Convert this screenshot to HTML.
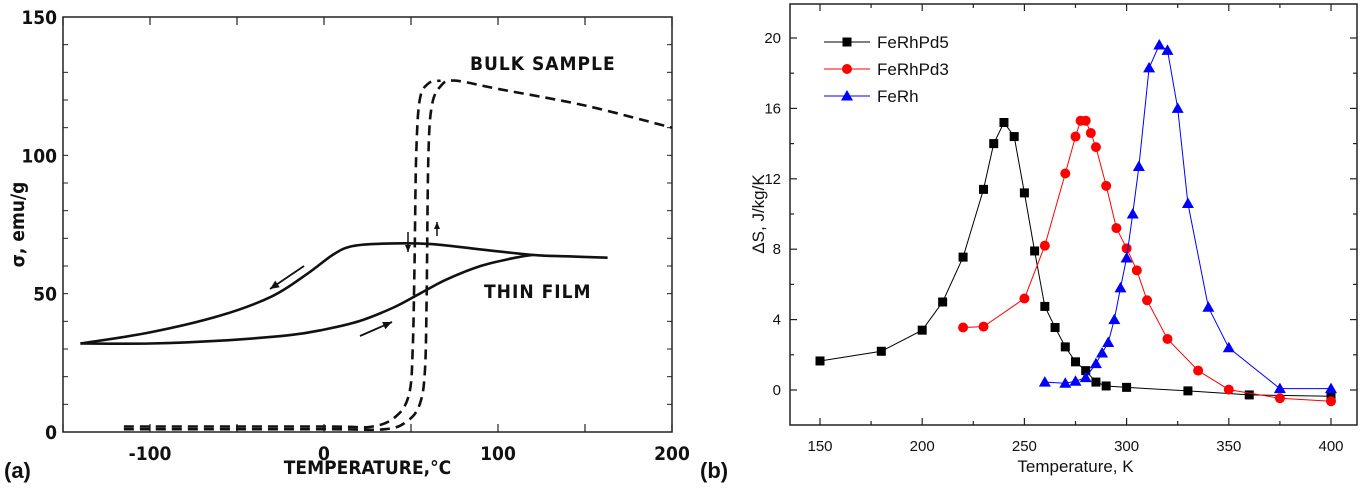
<!DOCTYPE html>
<html><head><meta charset="utf-8"><style>
html,body{margin:0;padding:0;background:#fff;}
svg{display:block;}
.ta{font-family:"DejaVu Sans Condensed","Liberation Sans Narrow","Liberation Sans",sans-serif;font-weight:bold;fill:#111;}
.tb{font-family:"Liberation Sans",Arial,sans-serif;fill:#111;}
</style></head><body>
<svg id="s" width="1365" height="490" viewBox="0 0 1365 490" xmlns="http://www.w3.org/2000/svg">
<g id="pa"></g>
<g id="pb"></g>
<text x="4" y="478" class="tb" font-size="22" font-weight="bold">(a)</text>
<text x="700" y="478" class="tb" font-size="22" font-weight="bold">(b)</text>
</svg>
<script>
// ---------- Panel (a) data ----------
const aXTicks = [-100, 0, 100, 200];
const aYTicks = [0, 50, 100, 150];
const bulkWarmT = [-115, 0, 35, 48, 55, 58, 59, 60, 62, 67, 75, 100, 150, 200];
const bulkWarmS = [1, 1, 1, 4, 10, 22, 50, 100, 118, 125, 127, 124, 118, 110];
const bulkCoolT = [-115, 0, 28, 42, 49, 51, 52, 53, 55, 60, 67];
const bulkCoolS = [2, 2, 2, 6, 14, 30, 60, 100, 120, 126, 127];
const filmCoolT = [163, 140, 120, 90, 60, 30, 15, 5, -10, -30, -60, -100, -140];
const filmCoolS = [63, 63.5, 64, 66, 68, 68, 67, 64, 57, 49, 42, 36, 32];
const filmHeatT = [-140, -100, -60, -20, 0, 20, 40, 55, 70, 90, 110, 120];
const filmHeatS = [32, 32, 33, 35, 37, 40, 45, 50, 55, 60, 63, 64];

// ---------- Panel (b) data ----------
const bXTicks = [150, 200, 250, 300, 350, 400];
const bYTicks = [0, 4, 8, 12, 16, 20];
const pd5T = [150,180,200,210,220,230,235,240,245,250,255,260,265,270,275,280,285,290,300,330,360,400];
const pd5S = [1.65,2.2,3.4,5.0,7.55,11.4,14.0,15.2,14.4,11.2,7.9,4.75,3.55,2.45,1.6,1.1,0.45,0.23,0.15,-0.05,-0.28,-0.35];
const pd3T = [220,230,250,260,270,275,277.5,280,282.5,285,290,295,300,305,310,320,335,350,375,400];
const pd3S = [3.55,3.6,5.2,8.2,12.3,14.4,15.3,15.3,14.6,13.8,11.6,9.2,8.05,6.8,5.1,2.9,1.1,0.02,-0.47,-0.64];
const ferhT = [260,270,275,280,285,288,291,294,297,300,303,306,311,316,320,325,330,340,350,375,400];
const ferhS = [0.45,0.38,0.5,0.7,1.5,2.1,2.7,4.0,5.8,7.5,10.0,12.7,18.3,19.6,19.3,16.0,10.6,4.7,2.4,0.08,0.08];
const seriesNames = ["FeRhPd5","FeRhPd3","FeRh"];

const NS = "http://www.w3.org/2000/svg";
function mk(parent, tag, attrs){const e=document.createElementNS(NS,tag);for(const k in attrs)e.setAttribute(k,attrs[k]);parent.appendChild(e);return e;}

// ----- Panel a -----
const pa = document.getElementById('pa');
const aL=63,aR=672,aT=17,aB=432;
const ax = t => aL + (t + 150) / 350 * (aR - aL);
const ay = s => aB - s / 150 * (aB - aT);
let fr = mk(pa,'rect',{x:aL,y:aT,width:aR-aL,height:aB-aT,fill:'none',stroke:'#222','stroke-width':1.5});


for (let v=-150; v<=200; v+=50){
  const x=ax(v);
  const t1=mk(pa,'line',{x1:x,y1:aB,x2:x,y2:aB-8,stroke:'#222','stroke-width':1.2});
  
  
  const t2=mk(pa,'line',{x1:x,y1:aT,x2:x,y2:aT+8,stroke:'#222','stroke-width':1.2});
  
  
}
for (let v=0; v<=150; v+=10){
  const y=ay(v);
  const t1=mk(pa,'line',{x1:aL,y1:y,x2:aL+5,y2:y,stroke:'#222','stroke-width':1});
  
  
  const t2=mk(pa,'line',{x1:aR,y1:y,x2:aR-5,y2:y,stroke:'#222','stroke-width':1});
  
  
}
aXTicks.forEach(v=>{
  const t=mk(pa,'text',{x:ax(v),y:aB+28,'text-anchor':'middle','font-size':19,class:'ta'});
  t.textContent=v;
  
  
});
aYTicks.forEach(v=>{
  const t=mk(pa,'text',{x:aL-6,y:ay(v)+7,'text-anchor':'end','font-size':19,class:'ta'});
  t.textContent=v;
  
  
});
let xt=mk(pa,'text',{x:ax(25),y:474,'text-anchor':'middle','font-size':19,class:'ta'});
xt.textContent='TEMPERATURE,°C';


let yt=mk(pa,'text',{x:0,y:0,'text-anchor':'middle','font-size':19,class:'ta',transform:'translate(24,'+ay(75)+') rotate(-90)'});
yt.textContent='σ, emu/g';


function pathOf(T,S,fx,fy){return T.map((t,i)=>(i?'L':'M')+fx(t).toFixed(1)+' '+fy(S[i]).toFixed(1)).join(' ');}
function smoothOf(T,S,fx,fy){
  const P=T.map((t,i)=>[fx(t),fy(S[i])]);
  let d='M'+P[0][0].toFixed(1)+' '+P[0][1].toFixed(1);
  for(let i=0;i<P.length-1;i++){
    const p0=P[Math.max(0,i-1)],p1=P[i],p2=P[i+1],p3=P[Math.min(P.length-1,i+2)];
    const c1=[p1[0]+(p2[0]-p0[0])/6,p1[1]+(p2[1]-p0[1])/6];
    const c2=[p2[0]-(p3[0]-p1[0])/6,p2[1]-(p3[1]-p1[1])/6];
    d+=' C'+c1.map(v=>v.toFixed(1)).join(' ')+' '+c2.map(v=>v.toFixed(1)).join(' ')+' '+p2.map(v=>v.toFixed(1)).join(' ');
  }
  return d;
}
let c1=mk(pa,'path',{d:smoothOf(bulkWarmT,bulkWarmS,ax,ay),fill:'none',stroke:'#111','stroke-width':2.6,'stroke-dasharray':'10 6','stroke-linejoin':'round'});


let c2=mk(pa,'path',{d:smoothOf(bulkCoolT,bulkCoolS,ax,ay),fill:'none',stroke:'#111','stroke-width':2.6,'stroke-dasharray':'10 6','stroke-linejoin':'round'});


let c3=mk(pa,'path',{d:smoothOf(filmCoolT,filmCoolS,ax,ay),fill:'none',stroke:'#111','stroke-width':2.6,'stroke-linejoin':'round'});


let c4=mk(pa,'path',{d:smoothOf(filmHeatT,filmHeatS,ax,ay),fill:'none',stroke:'#111','stroke-width':2.6,'stroke-linejoin':'round'});


let l1=mk(pa,'text',{x:470,y:70,'font-size':19,class:'ta','letter-spacing':'1'});
l1.textContent='BULK  SAMPLE';


let l2=mk(pa,'text',{x:484,y:298,'font-size':19,class:'ta','letter-spacing':'1'});
l2.textContent='THIN  FILM';


[[304,266,270,289],[360,336,392,322]].forEach((a,i)=>{
  const ln=mk(pa,'line',{x1:a[0],y1:a[1],x2:a[2],y2:a[3],stroke:'#111','stroke-width':1.8});
  
  
  const dx=a[2]-a[0],dy=a[3]-a[1],L=Math.hypot(dx,dy),ux=dx/L,uy=dy/L;
  const p=[a[2],a[3],a[2]-ux*9-uy*4,a[3]-uy*9+ux*4,a[2]-ux*9+uy*4,a[3]-uy*9-ux*4];
  const h=mk(pa,'polygon',{points:p.join(' '),fill:'#111'});
  
  
});
[[408,232,408,252,1],[437,236,437,222,-1]].forEach(a=>{
  const ln=mk(pa,'line',{x1:a[0],y1:a[1],x2:a[2],y2:a[3],stroke:'#111','stroke-width':1.5});
  
  
  const h=mk(pa,'polygon',{points:[a[2],a[3],a[2]-3,a[3]-7*a[4],a[2]+3,a[3]-7*a[4]].join(' '),fill:'#111'});
  
  
});

// ----- Panel b -----
const pb=document.getElementById('pb');
const bL=790,bR=1357,bT=4,bB=425;
const bx = t => 820 + (t-150)/250*(1331-820);
const by = s => 390 - s/20*(390-38);
let fb=mk(pb,'rect',{x:bL,y:bT,width:bR-bL,height:bB-bT,fill:'none',stroke:'#222','stroke-width':1.5});


for(let v=150;v<=400;v+=25){
  const x=bx(v),len=(v%50===0)?7:4;
  const t1=mk(pb,'line',{x1:x,y1:bB,x2:x,y2:bB-len,stroke:'#222','stroke-width':1.2});
  
  
  const t2=mk(pb,'line',{x1:x,y1:bT,x2:x,y2:bT+len,stroke:'#222','stroke-width':1.2});
  
  
}
for(let v=0;v<=20;v+=2){
  const y=by(v),len=(v%4===0)?7:4;
  const t1=mk(pb,'line',{x1:bL,y1:y,x2:bL+len,y2:y,stroke:'#222','stroke-width':1.2});
  
  
  const t2=mk(pb,'line',{x1:bR,y1:y,x2:bR-len,y2:y,stroke:'#222','stroke-width':1.2});
  
  
}
bXTicks.forEach(v=>{
  const t=mk(pb,'text',{x:bx(v),y:bB+26,'text-anchor':'middle','font-size':15,class:'tb'});
  t.textContent=v;
  
  
});
bYTicks.forEach(v=>{
  const t=mk(pb,'text',{x:bL-9,y:by(v)+5,'text-anchor':'end','font-size':15,class:'tb'});
  t.textContent=v;
  
  
});
let bxt=mk(pb,'text',{x:bx(275),y:472,'text-anchor':'middle','font-size':17,class:'tb'});
bxt.textContent='Temperature, K';


let byt=mk(pb,'text',{x:0,y:0,'text-anchor':'middle','font-size':17,class:'tb',transform:'translate(764,'+by(10)+') rotate(-90)'});
byt.textContent='ΔS, J/kg/K';



function marker(g,shape,x,y,color){
  let m;
  if(shape==='sq') m=mk(g,'rect',{x:x-4.5,y:y-4.5,width:9,height:9,fill:color});
  else if(shape==='ci') m=mk(g,'circle',{cx:x,cy:y,r:5,fill:color});
  else m=mk(g,'polygon',{points:[x,y-6,x-6,y+4.5,x+6,y+4.5].join(' '),fill:color});
  return m;
}
const series=[[pd5T,pd5S,'#000','sq'],[pd3T,pd3S,'#ff0000','ci'],[ferhT,ferhS,'#0000ff','tr']];
series.forEach((s,k)=>{
  const g=mk(pb,'g',{});
  
  
  const ln=mk(g,'path',{d:pathOf(s[0],s[1],bx,by),fill:'none',stroke:s[2],'stroke-width':1});
  
  
  s[0].forEach((t,i)=>{
    const m=marker(g,s[3],bx(t),by(s[1][i]),s[2]);
    
    
  });
  const ly=42+k*27;
  const lg=mk(pb,'g',{});
  
  
  const ll=mk(lg,'line',{x1:824,y1:ly,x2:870,y2:ly,stroke:s[2],'stroke-width':1});
  
  
  const lm=marker(lg,s[3],847,ly,s[2]);
  
  
  const lt=mk(lg,'text',{x:877,y:ly+6,'font-size':17,class:'tb'});
  lt.textContent=seriesNames[k];
  
  
});
</script>
</body></html>
